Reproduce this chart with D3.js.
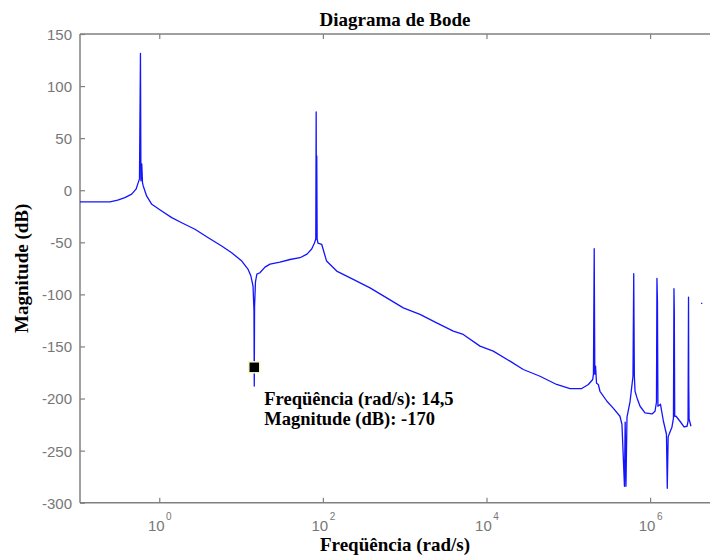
<!DOCTYPE html>
<html>
<head>
<meta charset="utf-8">
<script src="https://cdn.jsdelivr.net/npm/d3@7"></script>
<style>
  html, body { margin: 0; padding: 0; background: #fff; }
  svg { display: block; }
</style>
</head>
<body>
<script>
// ---- data ----
const freq = [0.107, 0.25, 0.31, 0.38, 0.46, 0.52, 0.553, 0.573, 0.589, 0.597, 0.611, 0.624, 0.637,
  0.70, 0.81, 1.07, 1.42, 1.88, 2.73, 3.97, 5.79, 7.67, 10.2, 12.2, 13.2, 14.0, 14.38, 14.5, 14.62,
  15.0, 15.6, 17.0, 19.6, 22.6, 29.9, 39.6, 52.5, 64, 73, 78.9, 81.9, 82.8, 83.5, 84.2, 85.1, 87.1,
  96.7, 111, 147.5, 235, 377, 603, 962, 1538, 2460, 3930, 5200, 8330, 12100, 19400, 28200, 45100,
  72100, 105000, 146000, 176000, 199000, 203000, 207500, 211000, 215500, 221500, 233000, 244000,
  297000, 352000, 428000, 453000, 486000, 496000, 507000, 522000, 537000, 568000, 618000, 631000,
  642000, 655000, 692000, 754000, 867000, 1056000, 1149000, 1197000, 1213000, 1230000, 1247000,
  1340000, 1456000, 1585000, 1622000, 1663000, 1747000, 1848000, 1930000, 1958000, 1977000,
  2000000, 2075000, 2320000, 2600000, 2830000, 2910000, 2950000, 2970000, 3000000, 3160000];
const mag = [-11.2, -11.2, -9.6, -7.1, -3.8, 1.0, 7.3, 10.9, 131.3, 9.0, 25.3, 7.0, 4.1,
  -5.5, -13.5, -19.9, -26.3, -31.2, -37.5, -45.6, -53.6, -60.0, -68.0, -76.0, -82.4, -92.0, -116, -188, -112,
  -88, -80.5, -79.2, -73.8, -70.9, -69.0, -66.5, -64.8, -61.3, -56.4, -50.7, -46.8, 75.2, -46.8, 33.0, -46.8, -50.7,
  -51.9, -68.0, -77.6, -85.6, -93.7, -103.3, -112.9, -119.2, -127.3, -135.3, -138.5, -149.7, -154.5, -164.1, -172.1, -178.6,
  -186.5, -190.4, -190.4, -186.5, -181.7, -176.6, -56.2, -176.6, -169.0, -185.3, -186.5, -193.0,
  -202.6, -209.0, -217.0, -224.7, -284.3, -222.6, -284.3, -217.8, -213.0, -203.2, -178.6, -80.2,
  -178.6, -193.0, -199.4, -207.4, -213.8, -214.8, -212.2, -203.3, -84.6, -106.4, -207.4,
  -205.5, -221.8, -234.3, -286.2, -236.8, -232.4, -227.6, -218.7, -94.6, -115.9,
  -217.0, -217.0, -221.8, -227.3, -226.6, -221.8, -102.6, -188.0, -219.9, -226.6];
// small isolated fragment at the right edge
const fragFreq = [4.2e6, 4.35e6];
const fragMag = [-108.7, -108.7];
// data tip
const tipFreq = 14.5;
const tipMag = -170;
const tipLines = ["Freqüência (rad/s): 14,5", "Magnitude (dB): -170"];
// axes
const xTickValues = [1, 1e2, 1e4, 1e6];
const xTickExponents = ["0", "2", "4", "6"];
const yTickValues = [-300, -250, -200, -150, -100, -50, 0, 50, 100, 150];
const titleText = "Diagrama de Bode";
const xLabelText = "Freqüência (rad/s)";
const yLabelText = "Magnitude (dB)";

// ---- layout ----
const W = 710, H = 556;
const L = 80, R = 710, T = 34, B = 502.7;
const axisColor = "#808080";
const tickTextColor = "#777";
const serif = "'Liberation Serif', 'Times New Roman', serif";
const sans = "'Liberation Sans', Arial, sans-serif";

const x = d3.scaleLog().domain([0.1074, 5.4e6]).range([L, R]);
const y = d3.scaleLinear().domain([-300, 150]).range([B, T]);

const svg = d3.select("body").append("svg").attr("width", W).attr("height", H);
svg.append("rect").attr("width", W).attr("height", H).attr("fill", "#fff");

svg.append("clipPath").attr("id", "clip")
  .append("rect").attr("x", L).attr("y", T - 2).attr("width", R - L).attr("height", B - T + 4);

// box lines
const g = svg.append("g");
g.append("line").attr("x1", L).attr("x2", L).attr("y1", T).attr("y2", B)
  .attr("stroke", axisColor).attr("stroke-width", 1.5);
g.append("line").attr("x1", L).attr("x2", R).attr("y1", B).attr("y2", B)
  .attr("stroke", axisColor).attr("stroke-width", 1.5);
g.append("line").attr("x1", L).attr("x2", R).attr("y1", T).attr("y2", T)
  .attr("stroke", axisColor).attr("stroke-width", 1.5);

// y axis (ticks inward)
const yAxis = d3.axisLeft(y).tickValues(yTickValues).tickSize(-5).tickSizeOuter(0).tickPadding(8)
  .tickFormat(d => String(d));
const gy = svg.append("g").attr("transform", `translate(${L},0)`).call(yAxis);
gy.select(".domain").remove();
gy.selectAll(".tick line").attr("stroke", axisColor).attr("stroke-width", 1.2);
gy.selectAll(".tick text").attr("fill", tickTextColor).attr("font-family", sans)
  .attr("font-size", 15).attr("x", -8).attr("dy", "0.36em");

// x axis bottom
const xAxis = d3.axisBottom(x).tickValues(xTickValues).tickSize(-5).tickSizeOuter(0);
const gx = svg.append("g").attr("transform", `translate(0,${B})`).call(xAxis);
gx.select(".domain").remove();
gx.selectAll(".tick line").attr("stroke", axisColor).attr("stroke-width", 1.2);
gx.selectAll(".tick text").each(function(d, i) {
  const t = d3.select(this);
  t.text(null).attr("fill", tickTextColor).attr("font-family", sans).attr("font-size", 15)
    .attr("y", 28.3).attr("dy", null).attr("text-anchor", "middle");
  t.append("tspan").text("10");
  t.append("tspan").attr("dx", 1.5).attr("dy", -11).attr("font-size", 10).text(xTickExponents[i]);
});

// x axis top (ticks only)
const xAxisTop = d3.axisTop(x).tickValues(xTickValues).tickSize(-5).tickSizeOuter(0).tickFormat("");
const gxt = svg.append("g").attr("transform", `translate(0,${T})`).call(xAxisTop);
gxt.select(".domain").remove();
gxt.selectAll(".tick line").attr("stroke", axisColor).attr("stroke-width", 1.2);

// curve
const pts = freq.map((f, i) => [f, mag[i]]);
const frag = fragFreq.map((f, i) => [f, fragMag[i]]);
const line = d3.line().x(d => x(d[0])).y(d => y(d[1]));
const plot = svg.append("g").attr("clip-path", "url(#clip)");
plot.append("path").datum(pts).attr("d", line)
  .attr("fill", "none").attr("stroke", "#1414ff").attr("stroke-width", 1.3)
  .attr("stroke-linejoin", "round");
plot.append("path").datum(frag).attr("d", line)
  .attr("fill", "none").attr("stroke", "#1414ff").attr("stroke-width", 1.3);

// data tip marker
const mx = x(tipFreq), my = y(tipMag);
svg.append("rect").attr("x", mx - 5.5).attr("y", my - 5.5).attr("width", 11).attr("height", 11)
  .attr("fill", "#000").attr("stroke", "#fbf7c8").attr("stroke-width", 1.5);
const tip = svg.append("g").attr("font-family", serif).attr("font-weight", "bold")
  .attr("font-size", 18.5).attr("fill", "#000");
tip.selectAll("text").data(tipLines).join("text")
  .attr("x", mx + 10).attr("y", (d, i) => my + 37.5 + i * 20.5).text(d => d);

// title and labels
svg.append("text").attr("x", (L + R) / 2).attr("y", 26).attr("text-anchor", "middle")
  .attr("font-family", serif).attr("font-weight", "bold").attr("font-size", 19).text(titleText);
svg.append("text").attr("x", (L + R) / 2).attr("y", 551).attr("text-anchor", "middle")
  .attr("font-family", serif).attr("font-weight", "bold").attr("font-size", 19).text(xLabelText);
svg.append("text").attr("transform", `translate(28,${(T + B) / 2}) rotate(-90)`)
  .attr("text-anchor", "middle")
  .attr("font-family", serif).attr("font-weight", "bold").attr("font-size", 19).text(yLabelText);
</script>
</body>
</html>
